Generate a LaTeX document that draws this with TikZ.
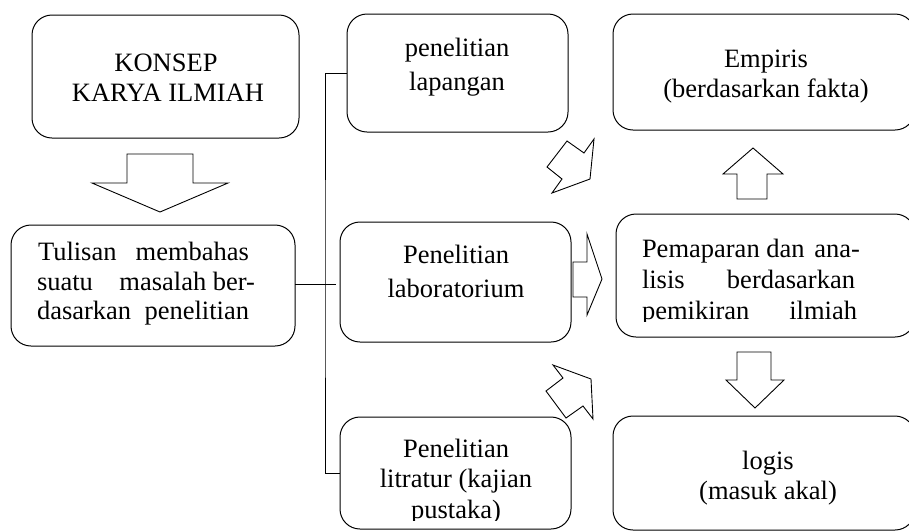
\documentclass[tikz,border=0pt]{standalone}
\usepackage{fontspec}
\setmainfont{Liberation Serif}
\begin{document}
\begin{tikzpicture}[x=1pt,y=-1pt,
  box/.style={draw=black, line width=1pt, rounded corners=20pt, anchor=north west, inner sep=0pt, outer sep=0pt},
  txt/.style={anchor=base, inner sep=0pt, outer sep=0pt, font=\fontsize{26.5}{30}\selectfont},
  txtl/.style={txt, anchor=base west},
  conn/.style={draw=black, line width=1pt},
  blk/.style={draw=black, line width=0.9pt, fill=white, line join=miter}]
\useasboundingbox (0,0) rectangle (909,531);

% boxes
\node[box, minimum width=267pt, minimum height=123pt] (konsep) at (32,15) {};
\node[box, minimum width=284pt, minimum height=121pt] (tulisan) at (11,225) {};
\node[box, minimum width=221pt, minimum height=118pt] (lap) at (347,14) {};
\node[box, minimum width=231pt, minimum height=120pt] (lab) at (340,222) {};
\node[box, minimum width=231pt, minimum height=112pt] (lit) at (340,417) {};
\node[box, minimum width=302pt, minimum height=116pt] (emp) at (613,14) {};
\node[box, minimum width=299pt, minimum height=123pt] (pem) at (616,214) {};
\node[box, minimum width=302pt, minimum height=114pt] (log) at (613,416) {};

% texts
\node[txt] (k1) at (166,71) {KONSEP};
\node[txt] (k2) at (168,101) {KARYA ILMIAH};

\node[txtl] (u1) at (38,260) {\makebox[211pt][s]{Tulisan membahas}};
\node[txtl] (u2) at (37,290) {\makebox[218pt][s]{suatu masalah\hspace{6.6pt}ber-}};
\node[txtl] (u3) at (37,319) {\makebox[212pt][s]{dasarkan penelitian}};

\node[txt] (p1) at (457,56) {penelitian};
\node[txt] (p2) at (457,90) {lapangan};

\node[txt] (b1) at (456,263) {Penelitian};
\node[txt] (b2) at (456,297) {laboratorium};

\node[txt] (l1) at (456,457) {Penelitian};
\node[txt] (l2) at (456,487) {litratur (kajian};
\begin{scope}
  \clip (0,0) rectangle (909,520);
  \node[txt] (l3) at (456,518) {pustaka)};
\end{scope}

\node[txt] (e1) at (766,67) {Empiris};
\node[txt] (e2) at (766,97) {(berdasarkan fakta)};

\node[txtl] (m1) at (642,257) {\makebox[218pt][s]{Pemaparan\hspace{6.6pt}dan ana-}};
\node[txtl] (m2) at (642,288) {\makebox[213pt][s]{lisis berdasarkan}};
\begin{scope}
  \clip (0,0) rectangle (909,321);
  \node[txtl] (m3) at (642,319) {\makebox[215pt][s]{pemikiran ilmiah}};
\end{scope}

\node[txt] (g1) at (768,469) {logis};
\node[txt] (g2) at (768,499) {(masuk akal)};

% connectors
\coordinate (j) at (325,284);
\draw[conn] (tulisan.east |- j) -- (j);
\draw[conn] (lap.west) -| (j) |- (lit.west);
\draw[conn] (j) -- ([xshift=-4pt]lab.west |- j);

% block arrows
\draw[blk] (127,154) -- (193,154) -- (193,183) -- (228,183) -- (160,212) -- (92,183) -- (127,183) -- cycle;
\draw[blk] (737,199) -- (767,199) -- (767,174) -- (783,174) -- (753,148) -- (723,174) -- (737,174) -- cycle;
\draw[blk] (737,352) -- (771,352) -- (771,380) -- (784,380) -- (755,408) -- (726,380) -- (737,380) -- cycle;
\draw[blk] (573,262) -- (587,262) -- (587,234) -- (602,279) -- (587,315) -- (587,297) -- (573,297) -- cycle;
\draw[blk] (547,167) -- (567,141) -- (584,153) -- (594,139) -- (590,179) -- (552,193) -- (562,179) -- cycle;
\draw[blk] (553,365) -- (591,379) -- (593,419) -- (583,406) -- (566,418) -- (546,391) -- (563,378) -- cycle;
\end{tikzpicture}
\end{document}
